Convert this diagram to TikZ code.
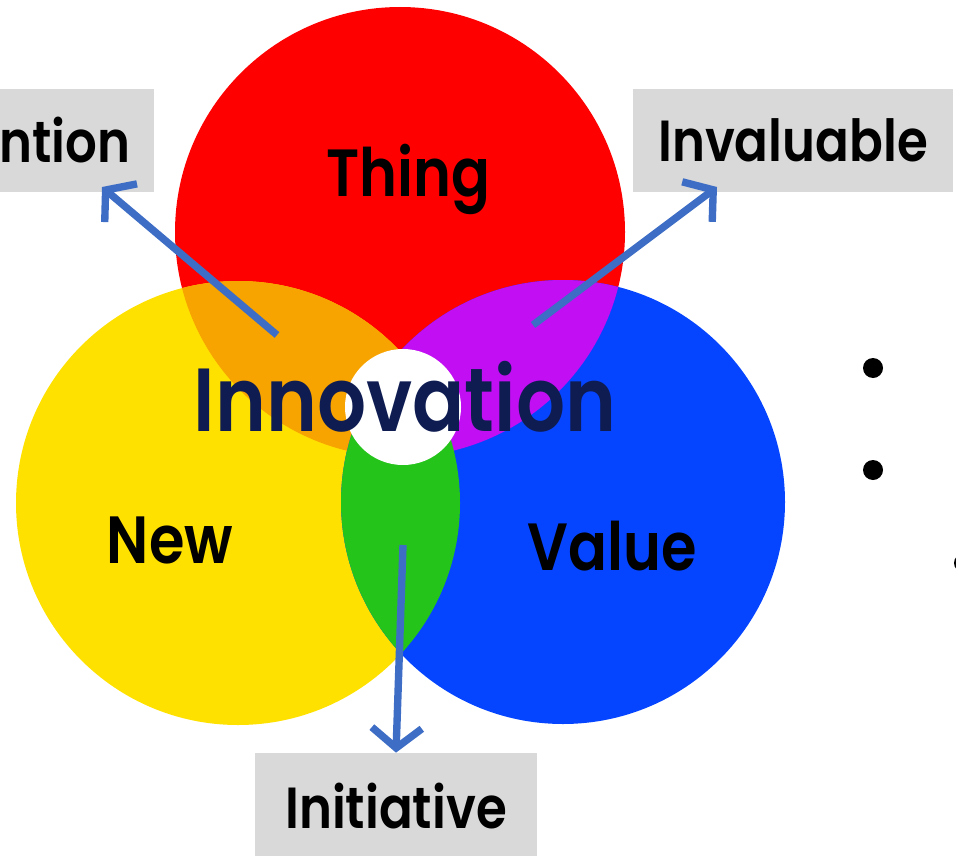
\documentclass[tikz,border=0pt]{standalone}
\usepackage{fontspec}
\setmainfont{Poppins}
\newfontfamily\medfont{Poppins SemiBold}[FakeStretch=0.86]
\usetikzlibrary{arrows.meta}
\definecolor{redc}{HTML}{FF0000}
\definecolor{yellowc}{HTML}{FFE100}
\definecolor{bluec}{HTML}{0645FF}
\definecolor{orangec}{HTML}{F7A300}
\definecolor{purplec}{HTML}{C10EF2}
\definecolor{greenc}{HTML}{25C41B}
\definecolor{navyc}{HTML}{0E1C52}
\definecolor{boxgray}{HTML}{D9D9D9}
\definecolor{arrowblue}{HTML}{3E6DC6}
\tikzstyle{word} = [font=\medfont\fontsize{38}{38}\selectfont, text=black, inner sep=0pt, anchor=base]
\tikzstyle{labelbox} = [rectangle, fill=boxgray, minimum height=2.06cm, inner sep=0pt, font=\medfont\fontsize{33}{33}\selectfont, text=black]
\tikzstyle{arrow} = [-{Straight Barb[length=4mm,width=10mm]}, line width=4.2pt, draw=arrowblue]

\begin{document}
\begin{tikzpicture}[x=0.02cm, y=-0.02cm]
\clip (0,0) rectangle (956,855);
%三个圆
\fill[redc] (400,232) circle (225);
\fill[yellowc] (238,503) circle (222);
\fill[bluec] (563,502) circle (222);
%两两相交部分
\begin{scope}
\clip (400,232) circle (225);
\fill[orangec] (238,503) circle (222);
\end{scope}
\begin{scope}
\clip (400,232) circle (225);
\fill[purplec] (563,502) circle (222);
\end{scope}
\begin{scope}
\clip (238,503) circle (222);
\fill[greenc] (563,502) circle (222);
\end{scope}
\fill[white] (403,407) circle (58);

%文字
\node (thing) [word] at (408,196) {Thing};
\node (new) [word] at (170,563) {New};
\node (value) [word] at (612,570) {Value};
\node (innov) [word, text=navyc, font=\medfont\fontsize{51}{51}\selectfont] at (405,431) {Innovation};

%标签框
\node (ntion) [labelbox, anchor=east, minimum width=3.6cm, text width=2.56cm, align=right] at (154,140.5) {ntion};
\node (invaluable) [labelbox, minimum width=6.4cm] at (793,140.5) {Invaluable};
\node (initiative) [labelbox, minimum width=5.64cm, minimum height=2.12cm] at (396,806) {Initiative};

%箭头
\coordinate (fromorange) at (277,335);
\coordinate (frompurple) at (533,325);
\coordinate (fromgreen) at (403,545);
\coordinate (tipntion) at (102,187);
\coordinate (tipinval) at (717,187);
\draw [arrow](fromorange) -- (tipntion);
\draw [arrow](frompurple) -- (tipinval);
\draw [arrow](fromgreen) -- (initiative.north);

%右侧圆点
\foreach \y in {368,470} \fill (873,\y) circle (10);
\fill (963,563) circle (9);
\end{tikzpicture}
\end{document}
